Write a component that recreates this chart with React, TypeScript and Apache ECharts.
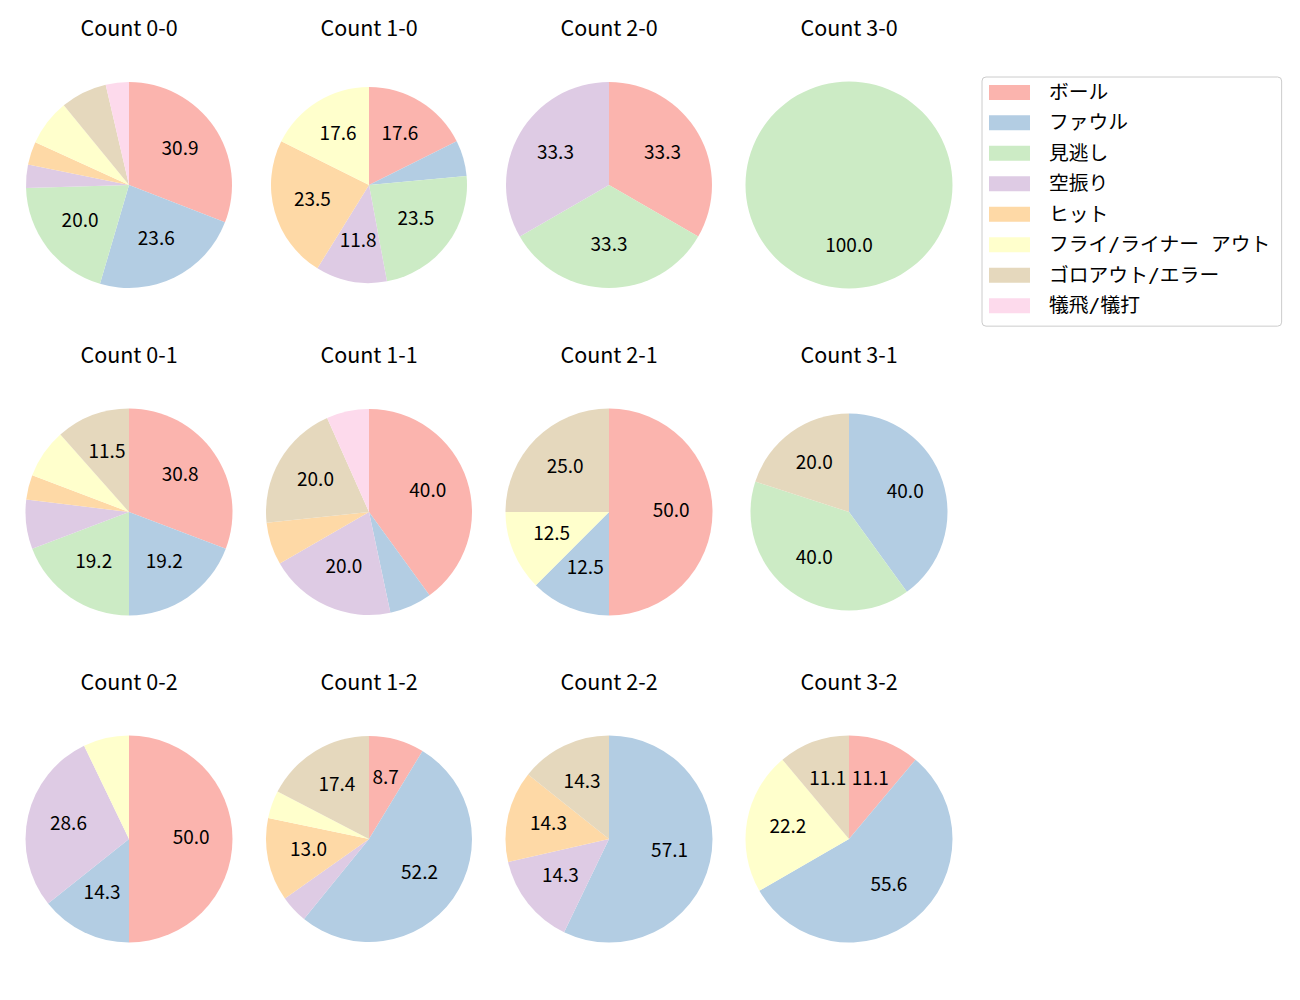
import React, { useEffect, useRef } from "react";
import * as echarts from "echarts";

const categories = ["ボール", "ファウル", "見逃し", "空振り", "ヒット", "フライ/ライナー アウト", "ゴロアウト/エラー", "犠飛/犠打"];
const colors = ["#fbb4ae", "#b3cde3", "#ccebc5", "#decbe4", "#fed9a6", "#ffffcc", "#e5d8bd", "#fddaec"];

const titles = ["Count 0-0", "Count 1-0", "Count 2-0", "Count 3-0", "Count 0-1", "Count 1-1", "Count 2-1", "Count 3-1", "Count 0-2", "Count 1-2", "Count 2-2", "Count 3-2"];

const count00 = [17, 13, 11, 2, 2, 4, 4, 2];
const count10 = [3, 1, 4, 2, 4, 3, 0, 0];
const count20 = [1, 0, 1, 1, 0, 0, 0, 0];
const count30 = [0, 0, 1, 0, 0, 0, 0, 0];
const count01 = [8, 5, 5, 2, 1, 2, 3, 0];
const count11 = [6, 1, 0, 3, 1, 0, 3, 1];
const count21 = [4, 1, 0, 0, 0, 1, 2, 0];
const count31 = [0, 2, 2, 0, 0, 0, 1, 0];
const count02 = [7, 2, 0, 4, 0, 1, 0, 0];
const count12 = [2, 12, 0, 1, 3, 1, 4, 0];
const count22 = [0, 4, 0, 1, 1, 0, 1, 0];
const count32 = [1, 5, 0, 0, 0, 2, 1, 0];

const allCounts = [count00, count10, count20, count30, count01, count11, count21, count31, count02, count12, count22, count32];

// layout
const colX = [129, 369, 609, 849];
const rowY = [185, 512, 839];
const radii = [103, 98, 103, 103.5, 103.5, 103, 103.5, 98.5, 103.5, 103, 103.5, 103.5];
const FONT = "'Noto Sans CJK JP', 'Noto Sans', sans-serif";
const LEGEND_FONT = "'DejaVu Sans Mono', 'Noto Sans CJK JP', sans-serif";

export default function App() {
  const ref = useRef<HTMLDivElement>(null);
  useEffect(() => {
    document.body.style.margin = "0";
    if (!ref.current) return;
    const chart = echarts.init(ref.current, undefined, { renderer: "svg" });
    const series: any[] = [];
    const labelSeries: any[] = [];
    const title: any[] = [];
    allCounts.forEach((vals, i) => {
      const cx = colX[i % 4];
      const cy = rowY[Math.floor(i / 4)];
      const r = radii[i];
      const total = vals.reduce((a, b) => a + b, 0);
      const data = vals
        .map((v, k) => ({ name: categories[k], value: v, itemStyle: { color: colors[k] } }))
        .filter((d) => d.value > 0);
      series.push({
        type: "pie",
        center: [cx, cy],
        radius: [0, r],
        startAngle: 90,
        clockwise: true,
        avoidLabelOverlap: false,
        silent: true,
        label: { show: false },
        labelLine: { show: false },
        emphasis: { disabled: true },
        itemStyle: { borderWidth: 0 },
        data,
      });
      labelSeries.push({
        type: "pie",
        center: [cx, cy],
        // ECharts puts inside labels at (r+r0)/2 + 3px; this gives 0.6r like the reference
        radius: [0.2 * r - 6, r],
        startAngle: 90,
        clockwise: true,
        avoidLabelOverlap: false,
        silent: true,
        emphasis: { disabled: true },
        itemStyle: { color: "rgba(0,0,0,0)", borderWidth: 0 },
        labelLine: { show: false },
        label: {
          show: true,
          position: "inside",
          color: "#000",
          fontFamily: FONT,
          fontSize: 19,
          offset: [0, -4],
          formatter: (p: any) => {
            const pct = (p.value / total) * 100;
            return pct >= 8 ? pct.toFixed(1) : "";
          },
        },
        data: data.map((d) => ({ name: d.name, value: d.value })),
      });
      title.push({
        text: titles[i],
        left: cx,
        top: cy - 185 + 15.5,
        padding: 0,
        textAlign: "center",
        textStyle: { fontFamily: FONT, fontSize: 21.5, fontWeight: "normal", color: "#000" },
      });
    });
    chart.setOption({
      animation: false,
      backgroundColor: "#fff",
      title,
      legend: {
        orient: "vertical",
        left: 982,
        top: 77,
        data: categories,
        icon: "rect",
        itemWidth: 41,
        itemHeight: 15,
        itemGap: 10.7,
        padding: [5.5, 11, 10.5, 7],
        backgroundColor: "#fff",
        borderColor: "#cccccc",
        borderWidth: 1,
        borderRadius: 4,
        selectedMode: false,
        itemStyle: { borderWidth: 0 },
        textStyle: { fontFamily: LEGEND_FONT, fontSize: 19.8, lineHeight: 19, color: "#000", padding: [0, 0, 0, 14] },
      },
      series: [...series, ...labelSeries],
    });
    return () => chart.dispose();
  }, []);
  return <div ref={ref} style={{ width: 1300, height: 1000 }} />;
}
